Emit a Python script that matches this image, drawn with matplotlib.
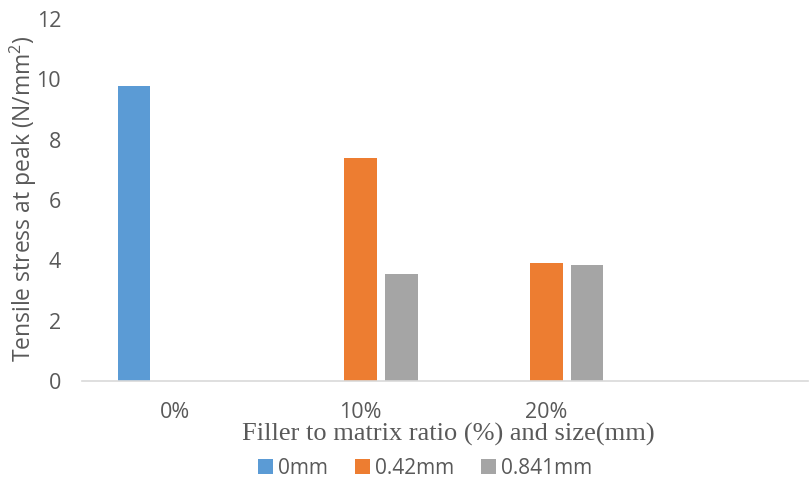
import numpy as np
import matplotlib
matplotlib.use('Agg')
import matplotlib.pyplot as plt

# values
categories = ['0%', '10%', '20%']
series_names = ['0mm', '0.42mm', '0.841mm']
stress_0mm = [9.78, 0, 0]
stress_042mm = [0, 7.39, 3.91]
stress_0841mm = [0, 3.55, 3.85]
colors = ['#5B9BD5', '#ED7D31', '#A5A5A5']

plt.rcParams['font.family'] = ['Open Sans', 'DejaVu Sans']
plt.rcParams['mathtext.fontset'] = 'custom'
plt.rcParams['mathtext.rm'] = 'Open Sans'
plt.rcParams['mathtext.default'] = 'rm'
text_col = '#595959'

fig = plt.figure(figsize=(8.12, 4.87), dpi=100)
ax = fig.add_axes([82 / 812, 106 / 487, 726 / 812, 362 / 487])

x = np.arange(len(categories))
width = 0.177
offset = 0.22
all_series = [stress_0mm, stress_042mm, stress_0841mm]
for i, (vals, name, c) in enumerate(zip(all_series, series_names, colors)):
    xs = x + (i - 1) * offset
    ax.bar(xs, vals, width=width, color=c, label=name)

ax.set_xlim(-0.5, 3.41)
ax.set_ylim(0, 12)
ax.set_yticks(range(0, 13, 2))
ax.set_xticks(x)
ax.set_xticklabels(categories)
ax.tick_params(axis='both', length=0, labelsize=15.5, colors=text_col)
ax.tick_params(axis='y', pad=15)
ax.tick_params(axis='x', pad=15)

for s in ['top', 'right', 'left']:
    ax.spines[s].set_visible(False)
ax.spines['bottom'].set_color('#D9D9D9')
ax.spines['bottom'].set_linewidth(1.2)

ax.set_ylabel(r'Tensile stress at peak (N/mm$^{2}$)', fontsize=16.5, color=text_col,
              va='center')
ax.yaxis.set_label_coords((23 - 82) / 726, (381 - 199) / 362)

fig.text(448 / 812, 1 - 434 / 487, 'Filler to matrix ratio (%) and size(mm)',
         fontsize=19, family='Liberation Serif', color=text_col, ha='center', va='center')

leg = fig.legend(loc='center', bbox_to_anchor=(425 / 812, 1 - 468 / 487), ncol=3,
                 frameon=False, fontsize=15, handlelength=0.7, handleheight=0.7,
                 handletextpad=0.25, columnspacing=1.3)
for t in leg.get_texts():
    t.set_color(text_col)

fig.savefig('out.png', dpi=100)
